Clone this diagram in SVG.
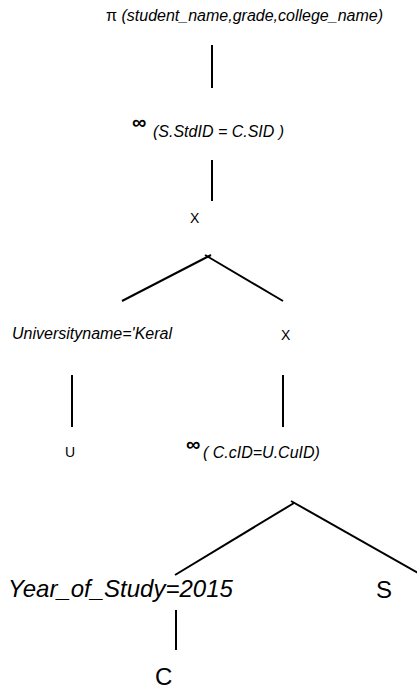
<svg xmlns="http://www.w3.org/2000/svg" width="417" height="689" viewBox="0 0 417 689">
  <style>
    text { font-family: "Liberation Sans", Arial, sans-serif; fill: #000; }
    .cond { font-size: 16px; font-style: italic; }
    .op { font-size: 14px; }
    .big { font-size: 24px; }
    .join { font-size: 20px; font-weight: bold; }
    .edge { stroke: #000; stroke-width: 2; fill: none; }
  </style>

  <!-- tree edges -->
  <g id="connectors">
    <line class="edge" x1="212" y1="45" x2="212" y2="88"/>
    <line class="edge" x1="212" y1="160" x2="212" y2="201"/>
    <line class="edge" x1="122" y1="301" x2="211" y2="255"/>
    <line class="edge" x1="205" y1="255" x2="283" y2="301"/>
    <line class="edge" x1="72" y1="375" x2="72" y2="427"/>
    <line class="edge" x1="283" y1="375" x2="283" y2="427"/>
    <line class="edge" x1="175" y1="575" x2="294" y2="503"/>
    <line class="edge" x1="291" y1="501" x2="418" y2="573"/>
    <line class="edge" x1="176" y1="610" x2="176" y2="650"/>
  </g>

  <!-- projection -->
  <g id="project">
    <text x="106" y="21" font-size="16">π <tspan font-style="italic">(student_name,grade,college_name)</tspan></text>
  </g>

  <!-- join on student id -->
  <g id="join-student">
    <text class="join" x="132" y="129">∞</text>
    <text class="cond" x="153" y="137">(S.StdID = C.SID )</text>
  </g>

  <!-- cross product (top) -->
  <g id="cross-top">
    <text class="op" x="190" y="223">X</text>
  </g>

  <!-- selection on university -->
  <g id="select-university">
    <text class="cond" x="12" y="339">Universityname='Keral</text>
  </g>

  <!-- cross product (right) -->
  <g id="cross-right">
    <text class="op" x="281" y="340">X</text>
  </g>

  <!-- relation U -->
  <g id="rel-u">
    <text class="op" x="65" y="457">U</text>
  </g>

  <!-- join on course id -->
  <g id="join-course">
    <text class="join" x="186" y="451">∞</text>
    <text class="cond" x="203" y="458">( C.cID=U.CuID)</text>
  </g>

  <!-- selection on year -->
  <g id="select-year">
    <text class="big" x="8" y="597" font-style="italic" font-size="25">Year_of_Study=2015</text>
  </g>

  <!-- relation S -->
  <g id="rel-s">
    <text class="big" x="376" y="598">S</text>
  </g>

  <!-- relation C -->
  <g id="rel-c">
    <text class="big" x="155" y="685">C</text>
  </g>
</svg>
